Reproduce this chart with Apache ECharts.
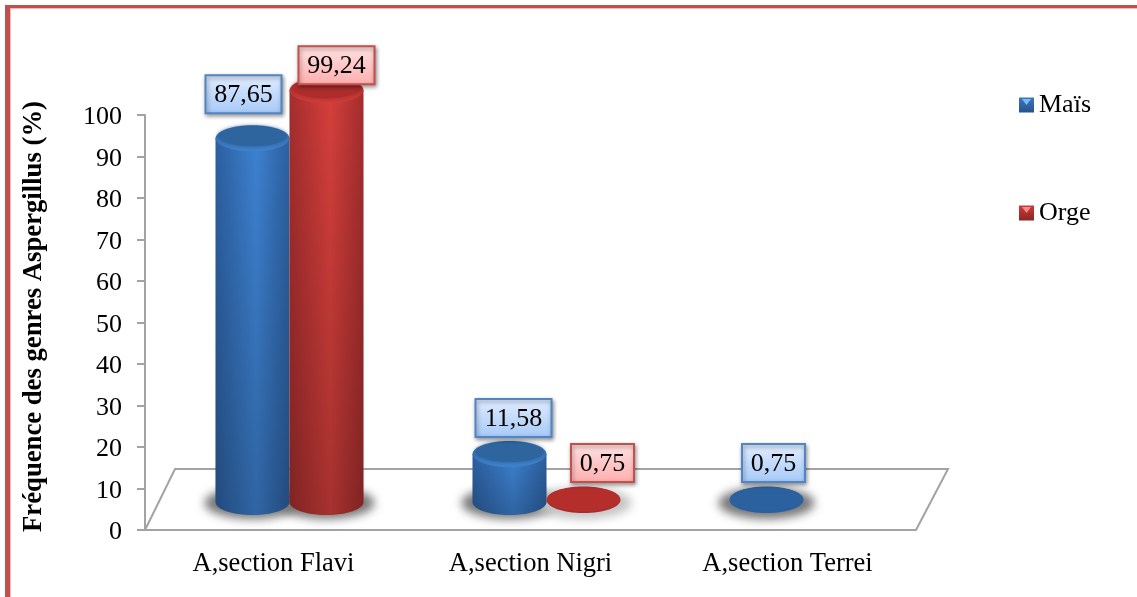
<!DOCTYPE html>
<html>
<head>
<meta charset="utf-8">
<style>html,body{margin:0;padding:0;background:#fff}#chart{width:1137px;height:597px}</style>
<script src="https://cdn.jsdelivr.net/npm/echarts@6/dist/echarts.min.js"></script>
</head>
<body>
<div id="chart"></div>
<script>
// Fréquence des genres Aspergillus, par céréale
var categories = ['A,section Flavi', 'A,section Nigri', 'A,section Terrei'];
var maisValues = [87.65, 11.58, 0.75];
var orgeValues = [99.24, 0.75, null];
var yTitle = 'Fréquence des genres Aspergillus (%)';

// Cylinder placement, in pixels, relative to the category band
var DEPTH_X = 16, DEPTH_Y = 28, BAR_W = 74, ELL_RY = 13;
var OFFSCREEN = 3000;

var palettes = {
  mais: {
    edge: '#2c5f9f', mid: '#3d81d1', top: '#2f659f', topDeep: '#2d6096', rim: '#3f83d0',
    boxA: '#e2edff', boxB: '#a6c9f7', border: '#5285c4', disk: '#2b619f'
  },
  orge: {
    edge: '#a32d2d', mid: '#d53f3b', top: '#ad2d2d', topDeep: '#9c2a2a', rim: '#d23c38',
    boxA: '#ffe2e2', boxB: '#ffaeae', border: '#c4504e', disk: '#b52e2c'
  }
};

// Hand-placed value boxes: offset from the cylinder top, in pixels
var maisLabelNudge = [[-9, -25], [4, -17], [7, -17]];
var orgeLabelNudge = [[10, -6], [19, -17], [0, 0]];

function ellipsePoints(cx, cy, rx, ry, from, to, n) {
  var pts = [];
  for (var i = 0; i <= n; i++) {
    var a = from + (to - from) * i / n;
    pts.push([cx + rx * Math.cos(a), cy + ry * Math.sin(a)]);
  }
  return pts;
}

function hGrad(a, b) {
  return { type: 'linear', x: 0, y: 0, x2: 1, y2: 0, colorStops: [
    { offset: 0, color: a }, { offset: 0.55, color: b }, { offset: 1, color: a }
  ] };
}
function vGrad(a, b) {
  return { type: 'linear', x: 0, y: 0, x2: 0, y2: 1, colorStops: [
    { offset: 0, color: a }, { offset: 1, color: b }
  ] };
}

function barGeometry(api, side) {
  var p = api.coord([api.value(0), api.value(1)]);
  var zero = api.coord([api.value(0), 0]);
  var cx = p[0] + DEPTH_X + side * BAR_W / 2;
  return { cx: cx, top: p[1] - DEPTH_Y, base: zero[1] - DEPTH_Y, rx: BAR_W / 2 };
}

function cylinderRenderer(pal, side, nudges) {
  return function (params, api) {
    var v = api.value(1);
    if (isNaN(v)) return;
    var g = barGeometry(api, side), kids = [];
    var cx = g.cx, rx = g.rx, ry = ELL_RY;
    if (v > 2) {
      // Side wall: horizontal shading plus a darkening towards the floor
      var wall = [[cx - rx, g.top]].concat(
        ellipsePoints(cx, g.base, rx, ry, Math.PI, 0, 48),
        [[cx + rx, g.top]]
      );
      kids.push({ type: 'polygon', shape: { points: wall }, style: { fill: hGrad(pal.edge, pal.mid) } });
      kids.push({ type: 'polygon', shape: { points: wall }, style: { fill: vGrad('rgba(0,0,0,0)', 'rgba(0,0,0,0.22)') } });
      // Soft rim, then the cap
      kids.push({ type: 'ellipse', shape: { cx: cx, cy: g.top, rx: rx, ry: ry }, style: { fill: vGrad(pal.topDeep, pal.rim) } });
      kids.push({ type: 'ellipse', shape: { cx: cx, cy: g.top - 2, rx: rx - 3, ry: ry - 3 }, style: { fill: pal.top, shadowBlur: 4, shadowColor: pal.top } });
    } else {
      // Very low values collapse to a flat disk
      kids.push({ type: 'ellipse', shape: { cx: cx, cy: g.top + 1, rx: rx, ry: ry }, style: { fill: pal.edge } });
      kids.push({ type: 'ellipse', shape: { cx: cx, cy: g.top, rx: rx - 0.5, ry: ry - 0.5 }, style: { fill: pal.disk } });
    }
    // Value box
    var n = nudges[params.dataIndex];
    var text = v.toFixed(2).replace('.', ',');
    var boxW = text.length > 4 ? 76 : 63, boxH = 38;
    var bx = cx + n[0] - boxW / 2, by = g.top + n[1] - boxH;
    kids.push({
      type: 'rect',
      shape: { x: bx, y: by, width: boxW, height: boxH },
      style: {
        fill: vGrad(pal.boxA, pal.boxB), stroke: pal.border, lineWidth: 2,
        shadowBlur: 4, shadowColor: 'rgba(0,0,0,0.4)', shadowOffsetX: 1, shadowOffsetY: 2
      }
    });
    kids.push({
      type: 'text',
      style: {
        x: bx + boxW / 2, y: by + boxH / 2 + 1, text: text, align: 'center', verticalAlign: 'middle',
        font: '26px "Liberation Serif"', fill: '#000'
      }
    });
    return { type: 'group', children: kids };
  };
}

// The ellipse itself sits off the canvas, so only its blurred cast shadow lands on the floor
function shadowRenderer(side) {
  return function (params, api) {
    var v = api.value(1);
    if (isNaN(v)) return;
    var g = barGeometry(api, side);
    var faint = side > 0 && v < 2;
    var color = faint ? '#c4c4c4' : '#787878';
    return {
      type: 'ellipse',
      shape: { cx: g.cx - OFFSCREEN, cy: g.base + 1, rx: g.rx + 11, ry: ELL_RY + 3 },
      style: { fill: '#000', shadowBlur: 10, shadowColor: color, shadowOffsetX: OFFSCREEN }
    };
  };
}

function floorRenderer(params) {
  var c = params.coordSys;
  var L = c.x, R = c.x + c.width, B = c.y + c.height, T = B - 61;
  return {
    type: 'polyline',
    shape: { points: [[L, B], [L + 30, T], [R + 32, T], [R, B]] },
    style: { fill: null, stroke: '#a3a3a3', lineWidth: 2 }
  };
}

function indexed(values) {
  return values.map(function (v, i) { return [i, v]; });
}

var chart = echarts.init(document.getElementById('chart'), null, { renderer: 'canvas' });

var legendBlue = { type: 'linear', x: 0, y: 0, x2: 0, y2: 1, colorStops: [{ offset: 0, color: '#3b78bf' }, { offset: 1, color: '#27528a' }] };
var legendRed = { type: 'linear', x: 0, y: 0, x2: 0, y2: 1, colorStops: [{ offset: 0, color: '#cc3a38' }, { offset: 1, color: '#8c2626' }] };

chart.setOption({
  animation: false,
  backgroundColor: '#fff',
  textStyle: { fontFamily: '"Liberation Serif"' },
  grid: { left: 145, right: 221, top: 115, bottom: 67 },
  legend: {
    orient: 'vertical', left: 1014, top: 87, itemWidth: 15, itemHeight: 15, itemGap: 82,
    selectedMode: false,
    textStyle: { fontFamily: '"Liberation Serif"', fontSize: 26, color: '#000' },
    data: [
      { name: 'Maïs', icon: 'rect', itemStyle: { color: legendBlue } },
      { name: 'Orge', icon: 'rect', itemStyle: { color: legendRed } }
    ]
  },
  xAxis: {
    type: 'category', data: categories,
    axisLine: { lineStyle: { color: '#a3a3a3', width: 2 } },
    axisTick: { length: 7, lineStyle: { color: '#a3a3a3', width: 2 } },
    axisLabel: { fontFamily: '"Liberation Serif"', fontSize: 26.5, color: '#000', margin: 21 }
  },
  yAxis: {
    type: 'value', min: 0, max: 100, interval: 10,
    name: yTitle, nameLocation: 'middle', nameGap: 97, nameRotate: 90,
    nameTextStyle: { fontFamily: '"Liberation Serif"', fontSize: 26.7, fontWeight: 'bold', color: '#000', padding: [0, 0, 0, 12] },
    axisLine: { show: true, lineStyle: { color: '#a3a3a3', width: 2 } },
    axisTick: { show: true, length: 8, lineStyle: { color: '#a3a3a3', width: 2 } },
    axisLabel: {
      formatter: '{t|{value}}', margin: 23,
      rich: { t: { fontFamily: '"Liberation Serif"', fontSize: 26, color: '#000', padding: [5, 0, 0, 0] } }
    },
    splitLine: { show: false }
  },
  series: [
    { name: 'plancher', type: 'custom', silent: true, z: 1, data: [[0, 0]], encode: { x: 0, y: 1 }, renderItem: floorRenderer },
    { name: 'ombre Maïs', type: 'custom', silent: true, z: 2, data: indexed(maisValues), encode: { x: 0, y: 1 }, renderItem: shadowRenderer(-1) },
    { name: 'ombre Orge', type: 'custom', silent: true, z: 2, data: indexed(orgeValues), encode: { x: 0, y: 1 }, renderItem: shadowRenderer(1) },
    { name: 'Maïs', type: 'custom', z: 3, itemStyle: { color: '#3b78bf' }, data: indexed(maisValues), encode: { x: 0, y: 1 }, renderItem: cylinderRenderer(palettes.mais, -1, maisLabelNudge) },
    { name: 'Orge', type: 'custom', z: 4, itemStyle: { color: '#cc3a38' }, data: indexed(orgeValues), encode: { x: 0, y: 1 }, renderItem: cylinderRenderer(palettes.orge, 1, orgeLabelNudge) }
  ],
  graphic: [
    // Page frame on the left and top edges
    { type: 'rect', silent: true, shape: { x: 10, y: 8, width: 1, height: 589 }, style: { fill: '#f2b8b7' } },
    { type: 'rect', silent: true, shape: { x: 10, y: 8, width: 1127, height: 1 }, style: { fill: '#f2b8b7' } },
    { type: 'rect', silent: true, shape: { x: 5, y: 5, width: 5, height: 592 }, style: { fill: '#c0504d' } },
    { type: 'rect', silent: true, shape: { x: 5, y: 5, width: 1132, height: 3 }, style: { fill: '#c0504d' } },
    // Bevel highlights on the legend swatches
    { type: 'polygon', silent: true, z: 100, shape: { points: [[1022, 99], [1031, 99], [1026.5, 105]] }, style: { fill: '#7fbaf5' } },
    { type: 'polygon', silent: true, z: 100, shape: { points: [[1022, 207], [1031, 207], [1026.5, 213]] }, style: { fill: '#f58a86' } }
  ]
});
</script>
</body>
</html>
